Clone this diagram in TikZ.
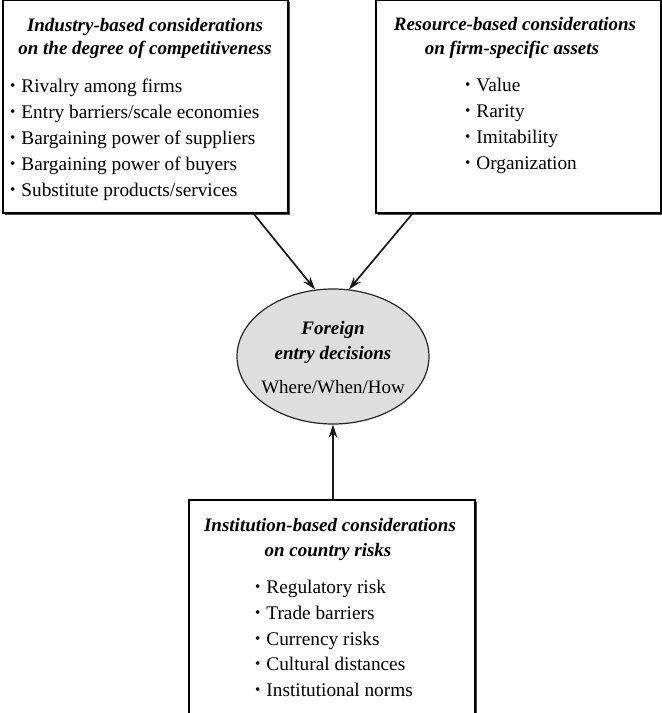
\documentclass[tikz,border=0pt]{standalone}
\usepackage{fontspec}
\setmainfont{Liberation Serif}
\usetikzlibrary{shadows,arrows.meta,shapes.geometric}
\newcommand{\bul}{{\fontsize{15}{15}\selectfont\raisebox{1.5pt}{•}}\hspace{6pt}}
\tikzset{
  box/.style={draw=black, line width=1.2pt, fill=white, inner sep=0pt,
    drop shadow={shadow xshift=2pt, shadow yshift=-2pt, fill=black!70, opacity=1}},
  ttl/.style={font=\fontsize{19}{22}\selectfont\bfseries\itshape, inner sep=0pt, anchor=base},
  itm/.style={font=\fontsize{19.3}{22}\selectfont, inner sep=0pt, anchor=base west},
  arr/.style={-{Stealth[length=13pt,width=8.5pt]}, line width=1.7pt, black!90}
}
\begin{document}
\begin{tikzpicture}[x=1pt,y=-1pt]
\clip (0,0) rectangle (662,713);
\useasboundingbox (0,0) rectangle (662,713);
% boxes
\node[box, minimum width=285pt, minimum height=213pt] (b1) at (145.5,106.5) {};
\node[box, minimum width=285pt, minimum height=213pt] (b2) at (518.5,106.5) {};
\node[box, minimum width=286pt, minimum height=240pt] (b3) at (332,620) {};
% ellipse
\node[draw=black!85, line width=1.2pt, fill=black!13, ellipse, minimum width=192pt, minimum height=135pt, inner sep=0pt] (ell) at (333,356.5) {};
% box1 text
\node[ttl] (t1a) at (145,31) {Industry-based considerations};
\node[ttl] (t1b) at (145,54) {on the degree of competitiveness};
\node[itm] (i1a) at (10,92) {\bul Rivalry among firms};
\node[itm] (i1b) at (10,118) {\bul Entry barriers/scale economies};
\node[itm] (i1c) at (10,144) {\bul Bargaining power of suppliers};
\node[itm] (i1d) at (10,170) {\bul Bargaining power of buyers};
\node[itm] (i1e) at (10,196) {\bul Substitute products/services};
% box2 text
\node[ttl] (t2a) at (515,30) {Resource-based considerations};
\node[ttl] (t2b) at (512,54) {on firm-specific assets};
\node[itm] (i2a) at (465,91) {\bul Value};
\node[itm] (i2b) at (465,117) {\bul Rarity};
\node[itm] (i2c) at (465,143) {\bul Imitability};
\node[itm] (i2d) at (465,169) {\bul Organization};
% ellipse text
\node[ttl] (e1) at (333,334) {Foreign};
\node[ttl] (e2) at (333,359) {entry decisions};
\node[ttl, font=\fontsize{19}{22}\selectfont] (e3) at (333,393) {Where/When/How};
% box3 text
\node[ttl] (t3a) at (330,531) {Institution-based considerations};
\node[ttl] (t3b) at (328,556) {on country risks};
\node[itm] (i3a) at (255,593) {\bul Regulatory risk};
\node[itm] (i3b) at (255,619) {\bul Trade barriers};
\node[itm] (i3c) at (255,645) {\bul Currency risks};
\node[itm] (i3d) at (255,670) {\bul Cultural distances};
\node[itm] (i3e) at (255,696) {\bul Institutional norms};
% arrows
\draw[arr] ([xshift=108pt]b1.south) -- ([xshift=-18pt,yshift=-1pt]ell.north);
\draw[arr] ([xshift=-106pt]b2.south) -- ([xshift=16pt,yshift=-1pt]ell.north);
\draw[arr] (b3.north -| ell.south) -- (ell.south);
\end{tikzpicture}
\end{document}
